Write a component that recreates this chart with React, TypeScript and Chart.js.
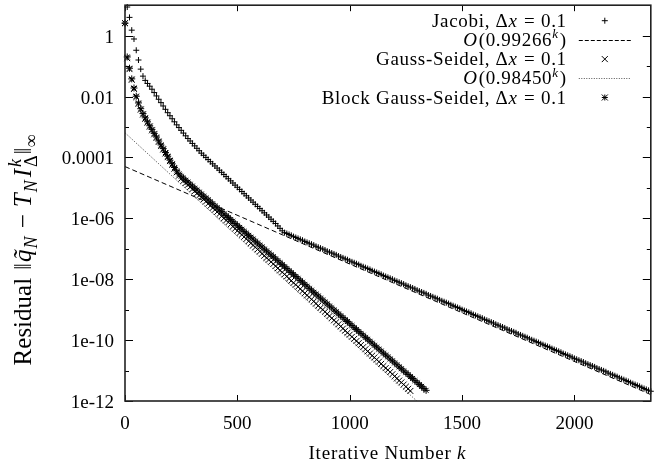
import React, { useEffect, useRef } from 'react';
import { Chart, registerables } from 'chart.js';

Chart.register(...registerables);

// iteration sampling of the plotted residuals (every 10th iteration)
const STEP = 10;

// log10 of residual, Jacobi, k = 0, 10, 20, ...
const jacobiExp = [
  0.41, 0.94, 0.60, 0.18, -0.11, -0.48, -0.80, -1.10, -1.33, -1.47,
  -1.57, -1.66, -1.76, -1.87, -1.98, -2.09, -2.20, -2.31, -2.42, -2.53,
  -2.63, -2.73, -2.83, -2.93, -3.02, -3.11, -3.20, -3.29, -3.38, -3.46,
  -3.54, -3.62, -3.70, -3.78, -3.86, -3.93, -4.00, -4.07, -4.14, -4.21,
  -4.28, -4.35, -4.42, -4.49, -4.56, -4.63, -4.70, -4.77, -4.84, -4.91,
  -4.98, -5.05, -5.12, -5.19, -5.26, -5.33, -5.40, -5.47, -5.54, -5.61,
  -5.68, -5.75, -5.82, -5.89, -5.96, -6.03, -6.10, -6.17, -6.25, -6.33,
  -6.41, -6.47, -6.50, -6.53, -6.56, -6.60, -6.63, -6.66, -6.69, -6.72,
  -6.76, -6.79, -6.82, -6.85, -6.88, -6.92, -6.95, -6.98, -7.01, -7.04,
  -7.08, -7.11, -7.14, -7.17, -7.20, -7.24, -7.27, -7.30, -7.33, -7.36,
  -7.40, -7.43, -7.46, -7.49, -7.52, -7.56, -7.59, -7.62, -7.65, -7.68,
  -7.72, -7.75, -7.78, -7.81, -7.84, -7.88, -7.91, -7.94, -7.97, -8.00,
  -8.04, -8.07, -8.10, -8.13, -8.16, -8.20, -8.23, -8.26, -8.29, -8.32,
  -8.36, -8.39, -8.42, -8.45, -8.48, -8.52, -8.55, -8.58, -8.61, -8.64,
  -8.68, -8.71, -8.74, -8.77, -8.80, -8.84, -8.87, -8.90, -8.93, -8.96,
  -9.00, -9.03, -9.06, -9.09, -9.12, -9.16, -9.19, -9.22, -9.25, -9.28,
  -9.32, -9.35, -9.38, -9.41, -9.44, -9.48, -9.51, -9.54, -9.57, -9.60,
  -9.64, -9.67, -9.70, -9.73, -9.76, -9.80, -9.83, -9.86, -9.89, -9.92,
  -9.96, -9.99, -10.02, -10.05, -10.08, -10.12, -10.15, -10.18, -10.21, -10.24,
  -10.28, -10.31, -10.34, -10.37, -10.40, -10.44, -10.47, -10.50, -10.53, -10.56,
  -10.60, -10.63, -10.66, -10.69, -10.72, -10.76, -10.79, -10.82, -10.85, -10.88,
  -10.92, -10.95, -10.98, -11.01, -11.04, -11.08, -11.11, -11.14, -11.17, -11.20,
  -11.24, -11.27, -11.30, -11.33, -11.36, -11.40, -11.43, -11.46, -11.49, -11.52,
  -11.56, -11.59, -11.62, -11.65, -11.68,
];

// log10 of residual, Gauss-Seidel, k = 0, 10, 20, ...
const gaussSeidelExp = [
  0.41, -0.74, -1.10, -1.45, -1.75, -2.02, -2.24, -2.43, -2.59, -2.73,
  -2.86, -2.99, -3.11, -3.24, -3.36, -3.49, -3.62, -3.74, -3.87, -3.99,
  -4.12, -4.24, -4.37, -4.49, -4.60, -4.70, -4.77, -4.84, -4.90, -4.97,
  -5.04, -5.11, -5.18, -5.25, -5.31, -5.38, -5.45, -5.52, -5.59, -5.66,
  -5.72, -5.79, -5.86, -5.93, -6.00, -6.07, -6.13, -6.20, -6.27, -6.34,
  -6.41, -6.48, -6.54, -6.61, -6.68, -6.75, -6.82, -6.89, -6.95, -7.02,
  -7.09, -7.16, -7.23, -7.30, -7.36, -7.43, -7.50, -7.57, -7.64, -7.71,
  -7.77, -7.84, -7.91, -7.98, -8.05, -8.12, -8.18, -8.25, -8.32, -8.39,
  -8.46, -8.53, -8.59, -8.66, -8.73, -8.80, -8.87, -8.94, -9.00, -9.07,
  -9.14, -9.21, -9.28, -9.35, -9.41, -9.48, -9.55, -9.62, -9.69, -9.76,
  -9.82, -9.89, -9.96, -10.03, -10.10, -10.16, -10.23, -10.30, -10.37, -10.44,
  -10.51, -10.57, -10.64, -10.71, -10.78, -10.85, -10.92, -10.98, -11.05, -11.12,
  -11.19, -11.26, -11.33, -11.39, -11.46, -11.53, -11.60, -11.67,
];

// log10 of residual, Block Gauss-Seidel, k = 0, 10, 20, ...
const blockGaussSeidelExp = [
  0.41, -0.70, -1.07, -1.42, -1.72, -1.99, -2.21, -2.40, -2.56, -2.70,
  -2.83, -2.96, -3.08, -3.21, -3.33, -3.46, -3.59, -3.71, -3.84, -3.96,
  -4.09, -4.21, -4.33, -4.44, -4.54, -4.62, -4.68, -4.75, -4.81, -4.88,
  -4.94, -5.01, -5.07, -5.14, -5.20, -5.27, -5.33, -5.39, -5.46, -5.52,
  -5.59, -5.65, -5.72, -5.78, -5.85, -5.91, -5.97, -6.04, -6.10, -6.17,
  -6.23, -6.30, -6.36, -6.43, -6.49, -6.56, -6.62, -6.68, -6.75, -6.81,
  -6.88, -6.94, -7.01, -7.07, -7.14, -7.20, -7.26, -7.33, -7.39, -7.46,
  -7.52, -7.59, -7.65, -7.72, -7.78, -7.85, -7.91, -7.97, -8.04, -8.10,
  -8.17, -8.23, -8.30, -8.36, -8.43, -8.49, -8.55, -8.62, -8.68, -8.75,
  -8.81, -8.88, -8.94, -9.01, -9.07, -9.14, -9.20, -9.26, -9.33, -9.39,
  -9.46, -9.52, -9.59, -9.65, -9.72, -9.78, -9.84, -9.91, -9.97, -10.04,
  -10.10, -10.17, -10.23, -10.30, -10.36, -10.43, -10.49, -10.55, -10.62, -10.68,
  -10.75, -10.81, -10.88, -10.94, -11.01, -11.07, -11.13, -11.20, -11.26, -11.33,
  -11.39, -11.46, -11.52, -11.59, -11.65,
];

// fitted reference lines O(0.99266^k) and O(0.98450^k): end points (k, log10)
const fitJacobiK = [0, 2340];
const fitJacobiExp = [-4.30, -11.79];
const fitGsK = [0, 1300];
const fitGsExp = [-3.19, -12.01];

const xTicks = [0, 500, 1000, 1500, 2000];
const yTickExps = [0, -1, -2, -3, -4, -5, -6, -7, -8, -9, -10, -11, -12];
const yLabelMap: Record<number, string> = {
  0: '1', [-2]: '0.01', [-4]: '0.0001', [-6]: '1e-06', [-8]: '1e-08', [-10]: '1e-10', [-12]: '1e-12',
};
const X_MAX = 2340;
const Y_MIN = 1e-12;
const Y_MAX = 10;

const FONT_FAMILY = '"Liberation Serif", "DejaVu Serif", serif';

type Seg = { t?: string; it?: boolean; pos?: 'sup' | 'sub'; stack?: [string, string]; gap?: number };

function fontOf(size: number, it?: boolean) {
  return `${it ? 'italic ' : ''}${size}px ${FONT_FAMILY}`;
}

function drawRich(
  ctx: CanvasRenderingContext2D,
  segs: Seg[],
  x: number,
  y: number,
  align: 'left' | 'right' | 'center',
  size: number,
  spacing: number,
) {
  const small = Math.round(size * 0.7);
  const c = ctx as any;
  c.letterSpacing = `${spacing}px`;
  const widths: number[] = [];
  let total = 0;
  for (const s of segs) {
    let w = 0;
    if (s.gap !== undefined) {
      w = s.gap;
    } else if (s.stack) {
      ctx.font = fontOf(small, true);
      const w1 = ctx.measureText(s.stack[0]).width;
      ctx.font = fontOf(small, false);
      const w2 = ctx.measureText(s.stack[1]).width;
      w = Math.max(w1, w2) + 1;
    } else {
      ctx.font = fontOf(s.pos ? small : size, s.it);
      w = ctx.measureText(s.t || '').width + (s.it ? 1 : 0);
    }
    widths.push(w);
    total += w;
  }
  let cx = align === 'right' ? x - total : align === 'center' ? x - total / 2 : x;
  ctx.textAlign = 'left';
  ctx.textBaseline = 'alphabetic';
  segs.forEach((s, i) => {
    if (s.gap !== undefined) {
      // spacing only
    } else if (s.stack) {
      ctx.font = fontOf(small, true);
      ctx.fillText(s.stack[0], cx + 1, y - size * 0.42);
      ctx.font = fontOf(small, false);
      ctx.fillText(s.stack[1], cx + 1, y + size * 0.25);
    } else {
      ctx.font = fontOf(s.pos ? small : size, s.it);
      const dy = s.pos === 'sup' ? -size * 0.4 : s.pos === 'sub' ? size * 0.22 : 0;
      ctx.fillText(s.t || '', cx, y + dy);
    }
    cx += widths[i];
  });
  c.letterSpacing = '0px';
}

const legendRows: { segs: Seg[]; kind: 'plus' | 'dash' | 'cross' | 'dot' | 'star' }[] = [
  { segs: [{ t: 'Jacobi, Δ' }, { t: 'x', it: true }, { t: ' = 0.1' }], kind: 'plus' },
  { segs: [{ t: 'O', it: true }, { t: '(0.99266' }, { t: 'k', it: true, pos: 'sup' }, { t: ')' }], kind: 'dash' },
  { segs: [{ t: 'Gauss-Seidel, Δ' }, { t: 'x', it: true }, { t: ' = 0.1' }], kind: 'cross' },
  { segs: [{ t: 'O', it: true }, { t: '(0.98450' }, { t: 'k', it: true, pos: 'sup' }, { t: ')' }], kind: 'dot' },
  { segs: [{ t: 'Block Gauss-Seidel, Δ' }, { t: 'x', it: true }, { t: ' = 0.1' }], kind: 'star' },
];

const yTitle: Seg[] = [
  { t: 'Residual' },
  { gap: 8 },
  { t: '‖' },
  { gap: 1 },
  { t: 'q̃', it: true },
  { t: 'N', it: true, pos: 'sub' },
  { gap: 7 },
  { t: '−' },
  { gap: 7 },
  { t: 'T', it: true },
  { t: 'N', it: true, pos: 'sub' },
  { gap: 2 },
  { t: 'I', it: true },
  { stack: ['k', 'Δ'] },
  { gap: 1 },
  { t: '‖' },
  { t: '∞', pos: 'sub' },
];
const xTitle: Seg[] = [{ t: 'Iterative Number ' }, { t: 'k', it: true }];

function drawMarker(ctx: CanvasRenderingContext2D, kind: string, x: number, y: number) {
  ctx.beginPath();
  if (kind === 'plus' || kind === 'star') {
    ctx.moveTo(x - 3, y); ctx.lineTo(x + 3, y);
    ctx.moveTo(x, y - 3); ctx.lineTo(x, y + 3);
  }
  if (kind === 'cross' || kind === 'star') {
    ctx.moveTo(x - 3, y - 3); ctx.lineTo(x + 3, y + 3);
    ctx.moveTo(x - 3, y + 3); ctx.lineTo(x + 3, y - 3);
  }
  ctx.stroke();
}

const framePlugin = {
  id: 'gnuframe',
  beforeDraw(chart: any) {
    const ctx = chart.ctx as CanvasRenderingContext2D;
    ctx.save();
    ctx.fillStyle = '#fff';
    ctx.fillRect(0, 0, chart.width, chart.height);
    ctx.restore();
  },
  afterDraw(chart: any) {
    const ctx = chart.ctx as CanvasRenderingContext2D;
    const { left, right, top, bottom } = chart.chartArea;
    const xs = chart.scales.x;
    const ys = chart.scales.y;
    ctx.save();
    ctx.strokeStyle = '#000';
    ctx.lineWidth = 1;
    ctx.beginPath();
    for (const e of yTickExps) {
      const py = Math.round(ys.getPixelForValue(Math.pow(10, e))) + 0.5;
      const len = e % 2 === 0 ? 8 : 4;
      ctx.moveTo(left, py); ctx.lineTo(left + len, py);
      ctx.moveTo(right, py); ctx.lineTo(right - len, py);
    }
    for (const v of xTicks) {
      const px = Math.round(xs.getPixelForValue(v)) + 0.5;
      ctx.moveTo(px, bottom); ctx.lineTo(px, bottom - 6);
      ctx.moveTo(px, top); ctx.lineTo(px, top + 6);
    }
    ctx.stroke();
    ctx.strokeStyle = '#222';
    ctx.lineWidth = 1.6;
    ctx.strokeRect(left, top, right - left, bottom - top);

    // legend
    ctx.fillStyle = '#000';
    const textRight = right - 84;
    const sx0 = right - 72;
    const sx1 = right - 20;
    const mx = right - 46;
    legendRows.forEach((row, i) => {
      const base = top + 21.5 + i * 19.2;
      drawRich(ctx, row.segs, textRight, base, 'right', 19, 0.7);
      const cy = base - 6;
      ctx.strokeStyle = '#000';
      ctx.lineWidth = 1;
      if (row.kind === 'dash' || row.kind === 'dot') {
        ctx.save();
        ctx.setLineDash(row.kind === 'dash' ? [4, 2] : [1, 1.5]);
        ctx.strokeStyle = row.kind === 'dash' ? '#000' : '#555';
        ctx.beginPath();
        ctx.moveTo(sx0, Math.round(cy) + 0.5);
        ctx.lineTo(sx1, Math.round(cy) + 0.5);
        ctx.stroke();
        ctx.restore();
      } else {
        drawMarker(ctx, row.kind, mx, cy);
      }
    });

    // axis titles
    drawRich(ctx, xTitle, (left + right) / 2, 459, 'center', 19, 0.8);
    ctx.translate(31, 250);
    ctx.rotate(-Math.PI / 2);
    drawRich(ctx, yTitle, 0, 0, 'center', 25, 0);
    ctx.restore();
  },
};

function toPoints(exps: number[]) {
  return exps.map((e, i) => ({ x: i * STEP, y: Math.pow(10, e) }));
}
function toLine(ks: number[], exps: number[]) {
  return ks.map((k, i) => ({ x: k, y: Math.pow(10, exps[i]) }));
}

export default function App() {
  const ref = useRef<HTMLCanvasElement | null>(null);
  useEffect(() => {
    if (!ref.current) return;
    const chart = new Chart(ref.current, {
      type: 'scatter',
      data: {
        datasets: [
          {
            label: 'Block Gauss-Seidel, Δx = 0.1',
            data: toPoints(blockGaussSeidelExp),
            pointStyle: 'star',
            pointRadius: 3.5,
            borderColor: '#000',
            backgroundColor: '#000',
            borderWidth: 1,
            showLine: false,
            clip: false,
          },
          {
            label: 'O(0.98450^k)',
            data: toLine(fitGsK, fitGsExp),
            showLine: true,
            pointRadius: 0,
            borderColor: '#444',
            borderWidth: 1,
            borderDash: [1, 1.5],
          },
          {
            label: 'Gauss-Seidel, Δx = 0.1',
            data: toPoints(gaussSeidelExp),
            pointStyle: 'crossRot',
            pointRadius: 4.2,
            borderColor: '#000',
            backgroundColor: '#000',
            borderWidth: 1,
            showLine: false,
            clip: false,
          },
          {
            label: 'O(0.99266^k)',
            data: toLine(fitJacobiK, fitJacobiExp),
            showLine: true,
            pointRadius: 0,
            borderColor: '#000',
            borderWidth: 1,
            borderDash: [5, 3],
          },
          {
            label: 'Jacobi, Δx = 0.1',
            data: toPoints(jacobiExp),
            pointStyle: 'cross',
            pointRadius: 3,
            borderColor: '#000',
            backgroundColor: '#000',
            borderWidth: 1,
            showLine: false,
            clip: false,
          },
        ],
      },
      options: {
        animation: false,
        responsive: false,
        events: [],
        layout: { padding: { top: 5, right: 1, left: 0, bottom: 0 } },
        plugins: { legend: { display: false }, tooltip: { enabled: false } },
        scales: {
          x: {
            type: 'linear',
            min: 0,
            max: X_MAX,
            grid: { display: false, drawTicks: false },
            border: { display: false },
            afterFit: (s: any) => {
              s.height = 67;
              s.paddingLeft = 0;
              s.paddingRight = 0;
              s.paddingTop = 0;
              s.paddingBottom = 0;
            },
            afterBuildTicks: (s: any) => { s.ticks = xTicks.map((v) => ({ value: v })); },
            ticks: {
              autoSkip: false,
              maxRotation: 0,
              padding: 12,
              color: '#000',
              font: { family: FONT_FAMILY, size: 19 },
              callback: (v: any) => String(v),
            },
          },
          y: {
            type: 'logarithmic',
            min: Y_MIN,
            max: Y_MAX,
            grid: { display: false, drawTicks: false },
            border: { display: false },
            afterFit: (s: any) => {
              s.width = 125;
              s.paddingTop = 0;
              s.paddingBottom = 0;
              s.paddingLeft = 0;
              s.paddingRight = 0;
            },
            afterBuildTicks: (s: any) => { s.ticks = yTickExps.map((e) => ({ value: Math.pow(10, e) })); },
            ticks: {
              autoSkip: false,
              padding: 11,
              labelOffset: 2,
              color: '#000',
              font: { family: FONT_FAMILY, size: 19 },
              callback: (v: any) => {
                const e = Math.round(Math.log10(Number(v)));
                return yLabelMap[e] ?? '';
              },
            },
          },
        },
      },
      plugins: [framePlugin],
    } as any);
    return () => chart.destroy();
  }, []);
  return (
    <div style={{ position: 'absolute', left: 0, top: 0, width: 656, height: 468, background: '#fff' }}>
      <canvas ref={ref} width={656} height={468} style={{ width: 656, height: 468, display: 'block' }} />
    </div>
  );
}
